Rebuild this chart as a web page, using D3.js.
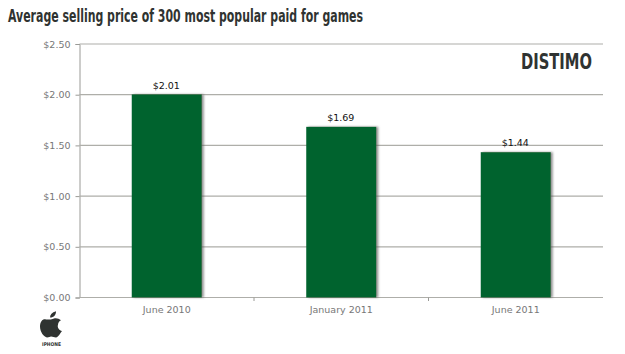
<!DOCTYPE html>
<html><head><meta charset="utf-8">
<script src="https://cdn.jsdelivr.net/npm/d3@7/dist/d3.min.js"></script>
<style>html,body{margin:0;padding:0;background:#fff}svg{display:block}</style>
</head><body><div id="c"></div>
<script>
const categories = ["June 2010","January 2011","June 2011"];
const values = [2.01,1.69,1.44];
const yTicks = [0,0.5,1,1.5,2,2.5];
const titleText = "Average selling price of 300 most popular paid for games";

const W=625,H=354,m={l:79.5,r:603,t:44,b:297.5};
const svg=d3.select("#c").append("svg").attr("width",W).attr("height",H);
const defs=svg.append("defs");
const f=defs.append("filter").attr("id","sh").attr("x","-20%").attr("y","-10%").attr("width","140%").attr("height","120%");
f.append("feDropShadow").attr("dx",2).attr("dy",0).attr("stdDeviation",1.2).attr("flood-color","#555").attr("flood-opacity",0.65);

const x=d3.scaleBand().domain(categories).range([m.l,m.r]).paddingInner(0).paddingOuter(0);
const y=d3.scaleLinear().domain([0,2.5]).range([m.b,m.t]);
const font="'DejaVu Sans',sans-serif";

svg.append("text").attr("x",8).attr("y",21.5).attr("font-family","'DejaVu Sans Condensed','DejaVu Sans',sans-serif")
 .attr("font-weight","bold").attr("font-size",18.5).attr("fill","#2f3331")
 .attr("textLength",355).attr("lengthAdjust","spacingAndGlyphs").text(titleText);

const yAxis=d3.axisLeft(y).tickValues(yTicks).tickFormat(d3.format("$.2f")).tickSize(4).tickPadding(5);
const gy=svg.append("g").attr("transform",`translate(${m.l},0)`).call(yAxis);
gy.select(".domain").attr("stroke","#9a9a96").attr("stroke-width",1);
gy.selectAll("line").attr("stroke","#9a9a96");
gy.selectAll("text").attr("font-family",font).attr("font-size",9.5).attr("fill","#777");
svg.append("g").selectAll("line").data(yTicks).join("line")
 .attr("x1",m.l).attr("x2",m.r).attr("y1",d=>y(d)).attr("y2",d=>y(d))
 .attr("stroke","#aeaea9").attr("stroke-width",1.2);

const barW=70;
svg.append("g").selectAll("rect").data(values).join("rect")
 .attr("x",(d,i)=>x(categories[i])+x.bandwidth()/2-barW/2)
 .attr("width",barW).attr("y",d=>y(d)+0.7).attr("height",d=>m.b-y(d)-0.7)
 .attr("fill","#04632e").attr("filter","url(#sh)");

svg.append("g").selectAll("text").data(values).join("text")
 .attr("x",(d,i)=>x(categories[i])+x.bandwidth()/2-0.5).attr("y",d=>y(d)-5)
 .attr("text-anchor","middle").attr("font-family",font).attr("font-size",9.5).attr("fill","#111")
 .text(d3.format("$.2f"));

const xAxis=d3.axisBottom(x).tickSize(0).tickPadding(8.5);
const gx=svg.append("g").attr("transform",`translate(0,${m.b})`).call(xAxis);
gx.select(".domain").remove();
gx.selectAll("text").attr("font-family",font).attr("font-size",9.5).attr("fill","#777");
svg.append("g").selectAll("line").data(categories.slice(1)).join("line")
 .attr("x1",d=>x(d)).attr("x2",d=>x(d)).attr("y1",m.b).attr("y2",m.b+3.5).attr("stroke","#9a9a96");

svg.append("text").attr("x",521).attr("y",69)
 .attr("font-family","'DejaVu Sans Condensed','DejaVu Sans',sans-serif").attr("font-weight","bold")
 .attr("font-size",22).attr("fill","#2f3331").attr("textLength",71).attr("lengthAdjust","spacingAndGlyphs").text("DISTIMO");

const logo=svg.append("g").attr("transform","translate(51,341) scale(1,0.9)").attr("fill","#2f3331");
logo.append("path").attr("d","M-5,-24 C-8,-25 -11,-22 -11,-16 C-11,-10 -7,-4 -4,-4 C-2,-4 -1,-5 0,-5 C2,-5 3,-4 5,-4 C7,-4 9,-8 11,-11 C8,-12 6,-15 7,-18 C7,-20 8,-22 10,-23 C8,-25 5,-26 3,-25 C1,-24 0,-24 -1,-24 C-2,-24 -3,-24 -5,-24 Z");
logo.append("path").attr("d","M-1,-26 C-1,-29 1,-32 5,-33 C5,-29 3,-26 -1,-26 Z");
svg.append("text").attr("x",51.5).attr("y",345.5).attr("text-anchor","middle").attr("font-family",font)
 .attr("font-weight","bold").attr("font-size",5).attr("fill","#2f3331").attr("textLength",19).attr("lengthAdjust","spacingAndGlyphs").text("IPHONE");
</script></body></html>
